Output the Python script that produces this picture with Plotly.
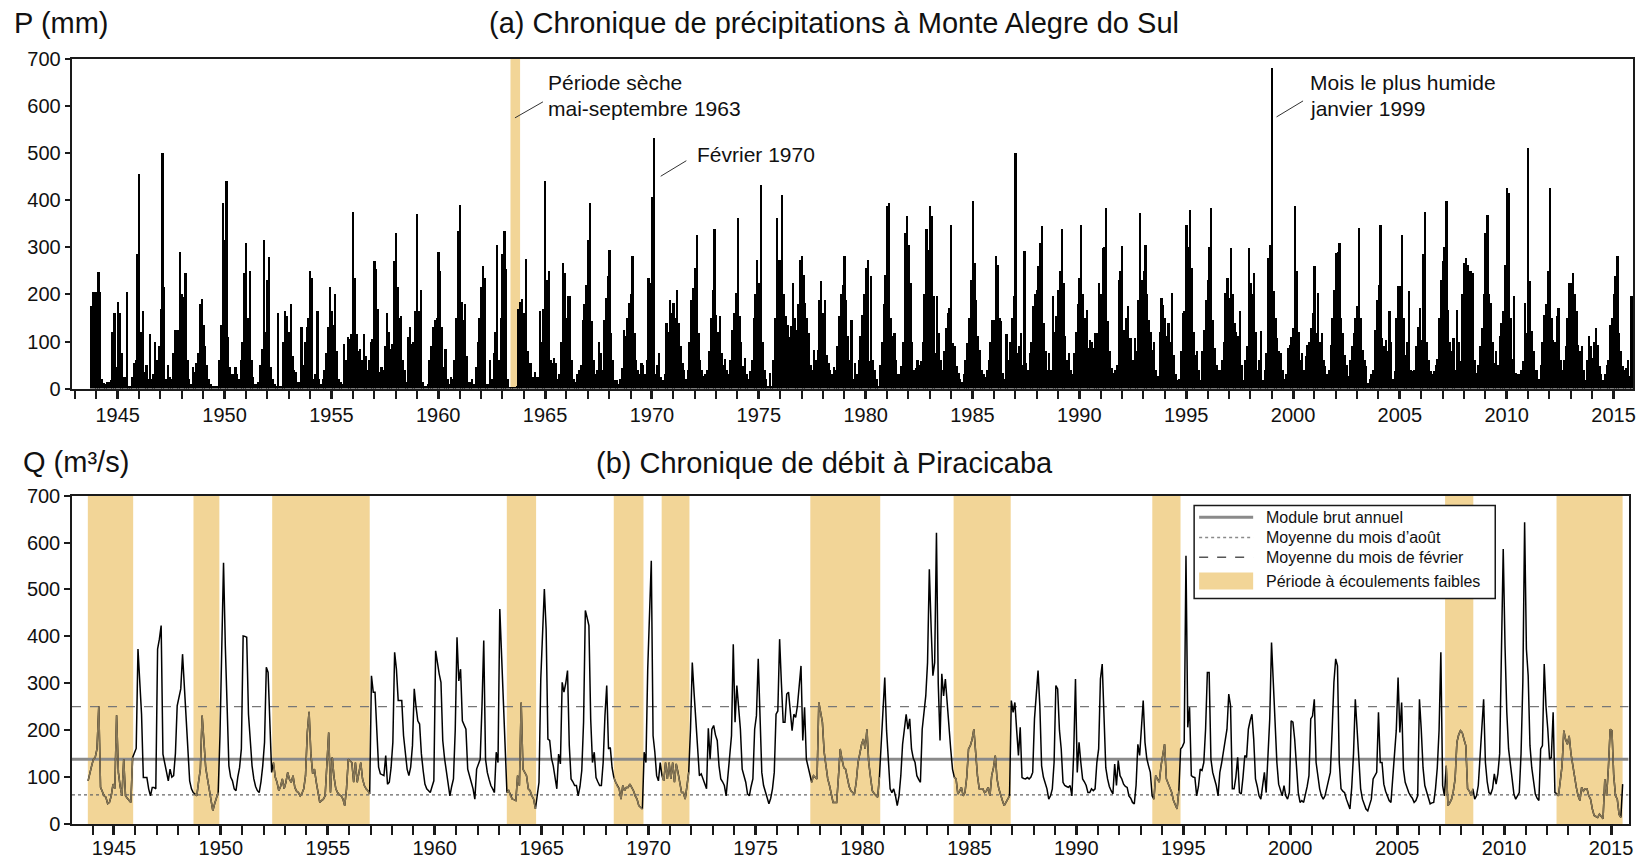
import plotly.graph_objects as go

# ---------------- DATA ----------------
# Monthly precipitation at Monte Alegre do Sul (mm), series starts October 1943
P_START_YEAR, P_START_MONTH = 1943, 10
P_1940s = [
    175, 205, 205,                                            # 1943 Oct-Dec
    205, 248, 205, 20, 12, 10, 15, 15, 18, 120, 160, 45,      # 1944
    185, 160, 75, 25, 25, 205, 5, 5, 25, 55, 60, 285,         # 1945
    455, 120, 165, 35, 50, 20, 115, 20, 30, 100, 60, 90,      # 1946
    170, 500, 215, 20, 50, 25, 20, 75, 125, 125, 125, 290,    # 1947
    200, 195, 245, 60, 20, 10, 45, 35, 55, 75, 180, 190,      # 1948
    135, 90, 50, 20, 10, 5, 5, 5, 5, 60, 135, 395,            # 1949
]
P_1950s = [
    315, 440, 110, 45, 30, 30, 45, 30, 20, 60, 100, 245,
    310, 150, 250, 60, 25, 10, 10, 15, 50, 85, 315, 120,
    230, 280, 45, 20, 10, 5, 160, 5, 5, 100, 165, 155,
    120, 180, 70, 40, 35, 15, 15, 130, 50, 100, 130, 150,
    250, 235, 20, 30, 165, 20, 10, 20, 40, 75, 130, 215,
    165, 135, 200, 80, 20, 15, 10, 95, 60, 110, 105, 115,
    375, 235, 115, 80, 85, 60, 115, 70, 40, 60, 100, 105,
    270, 255, 170, 35, 45, 40, 90, 160, 120, 85, 95, 270,
    330, 215, 150, 155, 60, 40, 15, 110, 130, 95, 100, 165,
    370, 165, 210, 15, 5, 5, 10, 60, 90, 130, 145, 150,
]
P_1960s = [
    290, 250, 130, 45, 85, 20, 10, 25, 20, 60, 150, 335,
    390, 185, 145, 180, 70, 15, 15, 20, 10, 45, 100, 150,
    215, 260, 235, 10, 10, 60, 20, 75, 120, 305, 60, 150,
    285, 335, 255, 20, 3, 2, 3, 2, 5, 170, 185, 190,
    160, 275, 80, 55, 55, 25, 35, 25, 25, 165, 100, 170,
    440, 230, 250, 60, 55, 65, 55, 20, 30, 100, 267, 246,
    150, 196, 196, 60, 20, 15, 30, 40, 51, 146, 180, 220,
    316, 394, 143, 60, 30, 40, 100, 76, 40, 146, 192, 240,
    295, 118, 60, 19, 19, 10, 20, 44, 125, 111, 150, 182,
    200, 281, 118, 60, 40, 30, 55, 51, 30, 60, 235, 224,
]
P_1970s = [
    408, 532, 30, 50, 76, 25, 19, 30, 139, 120, 189, 160,
    182, 150, 210, 139, 90, 55, 40, 20, 40, 100, 189, 214,
    256, 327, 118, 60, 40, 26, 30, 40, 80, 150, 210, 338,
    157, 120, 154, 76, 50, 62, 40, 30, 60, 125, 160, 203,
    362, 154, 100, 47, 65, 30, 20, 37, 60, 150, 200, 274,
    224, 433, 100, 40, 20, 5, 33, 5, 60, 150, 362, 274,
    274, 412, 200, 154, 136, 110, 132, 224, 150, 125, 180, 274,
    281, 242, 182, 150, 118, 50, 40, 83, 60, 83, 189, 228,
    160, 189, 72, 55, 40, 30, 45, 40, 90, 154, 200, 220,
    281, 189, 111, 60, 146, 20, 55, 30, 60, 111, 157, 200,
]
P_1980s = [
    256, 274, 58, 239, 60, 40, 20, 5, 50, 100, 180, 242,
    387, 394, 150, 111, 118, 60, 30, 30, 47, 100, 330, 366,
    306, 224, 100, 40, 44, 60, 50, 58, 100, 200, 338, 295,
    387, 366, 196, 76, 196, 118, 60, 40, 80, 129, 160, 171,
    348, 97, 90, 47, 33, 20, 15, 30, 60, 97, 150, 231,
    398, 267, 189, 111, 83, 40, 30, 25, 40, 60, 100, 146,
    146, 281, 263, 150, 143, 33, 20, 115, 60, 100, 150, 196,
    500, 76, 90, 118, 50, 292, 55, 40, 76, 100, 175, 200,
    210, 260, 309, 345, 139, 80, 40, 76, 40, 196, 120, 154,
    210, 250, 338, 224, 111, 60, 76, 40, 30, 76, 120, 180,
]
P_1990s = [
    235, 348, 200, 150, 168, 86, 104, 100, 86, 118, 118, 224,
    200, 299, 300, 384, 143, 80, 44, 33, 40, 51, 231, 250,
    302, 125, 150, 175, 108, 108, 60, 108, 80, 189, 373, 231,
    250, 306, 200, 146, 120, 83, 100, 40, 26, 120, 192, 178,
    150, 111, 139, 100, 203, 72, 30, 19, 20, 80, 161, 164,
    348, 300, 380, 256, 120, 72, 79, 40, 19, 80, 125, 189,
    231, 300, 384, 146, 86, 50, 40, 40, 60, 100, 203, 235,
    192, 299, 200, 139, 120, 111, 164, 50, 19, 60, 90, 299,
    224, 200, 246, 120, 40, 60, 122, 19, 40, 76, 277, 306,
    681, 207, 150, 108, 80, 76, 40, 20, 30, 86, 93, 110,
]
P_2000s = [
    129, 387, 249, 120, 60, 76, 40, 69, 93, 100, 129, 160,
    260, 118, 203, 100, 118, 60, 47, 30, 40, 93, 150, 210,
    288, 290, 309, 150, 118, 72, 50, 26, 60, 90, 118, 150,
    175, 341, 150, 83, 60, 47, 12, 20, 30, 40, 125, 189,
    220, 348, 108, 90, 104, 80, 164, 100, 20, 37, 150, 217,
    217, 327, 150, 72, 100, 207, 40, 37, 40, 90, 130, 171,
    104, 285, 376, 100, 60, 37, 30, 37, 50, 62, 150, 231,
    270, 300, 398, 168, 100, 80, 108, 40, 168, 100, 58, 200,
    267, 277, 263, 249, 250, 246, 60, 33, 50, 90, 129, 200,
    330, 369, 200, 182, 100, 55, 80, 51, 111, 140, 164, 263,
]
P_2010s = [
    426, 415, 150, 62, 196, 33, 30, 30, 40, 58, 182, 118,
    511, 228, 122, 80, 40, 40, 20, 51, 100, 157, 180, 249,
    426, 150, 104, 100, 154, 171, 60, 40, 60, 90, 150, 224,
    224, 246, 200, 164, 93, 80, 90, 40, 19, 60, 111, 90,
    65, 100, 129, 93, 47, 30, 19, 30, 51, 60, 136, 150,
    200, 240, 281, 118, 80, 47, 40, 44, 60, 26, 196,          # 2015 Jan-Nov
]

# Monthly discharge at Piracicaba (m3/s), series starts October 1943
Q_START_YEAR, Q_START_MONTH = 1943, 10
Q_1940s = [
    92, 110, 124,
    138, 142, 160, 251, 78, 67, 60, 57, 43, 46, 60, 85,
    75, 232, 110, 80, 60, 138, 60, 55, 50, 46, 142, 150,
    161, 373, 302, 234, 99, 99, 99, 75, 60, 78, 78, 75,
    373, 394, 423, 149, 130, 117, 92, 117, 100, 103, 150, 252,
    270, 288, 362, 300, 231, 160, 92, 75, 67, 64, 60, 90,
    117, 231, 181, 120, 96, 75, 50, 28, 43, 55, 67, 188,
]
Q_1950s = [
    350, 557, 380, 245, 124, 100, 92, 75, 71, 100, 120, 160,
    401, 400, 398, 234, 170, 124, 96, 80, 71, 67, 90, 124,
    174, 334, 323, 200, 110, 131, 100, 89, 71, 80, 96, 75,
    89, 110, 95, 89, 103, 78, 70, 67, 60, 65, 75, 103,
    195, 239, 150, 107, 117, 90, 71, 46, 50, 53, 60, 120,
    195, 67, 142, 100, 75, 67, 62, 60, 53, 39, 75, 138,
    135, 131, 89, 131, 89, 110, 131, 96, 82, 75, 71, 64,
    316, 281, 281, 200, 121, 107, 105, 103, 146, 85, 89, 120,
    174, 366, 330, 263, 263, 263, 188, 150, 117, 103, 121, 167,
    288, 250, 220, 213, 150, 114, 85, 75, 71, 67, 80, 92,
]
Q_1960s = [
    369, 340, 320, 302, 178, 140, 114, 89, 60, 80, 96, 200,
    398, 305, 330, 220, 210, 202, 117, 100, 89, 75, 53, 117,
    130, 138, 250, 391, 138, 110, 95, 82, 75, 67, 153, 131,
    458, 350, 266, 131, 67, 71, 60, 53, 52, 50, 103, 82,
    259, 117, 110, 103, 75, 71, 60, 53, 32, 60, 89, 309,
    400, 501, 415, 181, 178, 140, 124, 96, 75, 149, 128, 302,
    281, 300, 327, 167, 96, 90, 82, 82, 60, 80, 114, 217,
    455, 440, 423, 224, 131, 153, 99, 90, 82, 82, 131, 231,
    295, 160, 163, 120, 99, 89, 80, 75, 53, 82, 71, 78,
    78, 85, 78, 71, 60, 53, 39, 36, 32, 153, 131, 330,
]
Q_1970s = [
    444, 561, 188, 153, 103, 92, 131, 103, 92, 131, 96, 131,
    96, 131, 89, 128, 110, 90, 67, 67, 53, 80, 110, 202,
    344, 280, 217, 146, 103, 107, 95, 85, 75, 204, 138, 202,
    210, 190, 178, 124, 96, 90, 82, 60, 103, 150, 188, 383,
    217, 295, 250, 202, 117, 100, 89, 64, 60, 80, 96, 202,
    231, 352, 200, 110, 82, 70, 60, 43, 55, 75, 110, 234,
    241, 394, 300, 217, 217, 277, 281, 245, 199, 234, 227, 252,
    300, 337, 178, 249, 138, 120, 103, 89, 103, 100, 96, 259,
    240, 217, 153, 120, 96, 82, 60, 46, 46, 46, 100, 160,
    138, 120, 117, 96, 80, 71, 67, 64, 90, 131, 150, 170,
]
Q_1980s = [
    181, 160, 202, 131, 100, 71, 65, 60, 57, 100, 167, 250,
    312, 200, 146, 75, 67, 75, 60, 39, 60, 103, 170, 200,
    234, 202, 224, 160, 140, 131, 103, 95, 89, 202, 240, 273,
    344, 543, 420, 316, 344, 621, 300, 178, 320, 273, 309, 252,
    200, 160, 117, 100, 96, 64, 70, 78, 60, 67, 100, 160,
    167, 180, 202, 149, 103, 75, 75, 75, 67, 70, 78, 60,
    103, 120, 146, 96, 75, 60, 50, 39, 45, 53, 60, 263,
    238, 259, 200, 146, 206, 99, 97, 96, 99, 96, 100, 110,
    224, 280, 327, 252, 124, 100, 89, 75, 53, 60, 75, 131,
    295, 288, 200, 160, 89, 82, 80, 78, 82, 60, 150, 309,
]
Q_1990s = [
    110, 174, 131, 96, 90, 82, 67, 67, 75, 71, 75, 131,
    160, 309, 341, 202, 120, 96, 80, 71, 64, 128, 82, 135,
    103, 96, 85, 80, 78, 60, 55, 46, 43, 82, 170, 146,
    200, 263, 174, 140, 124, 110, 60, 53, 103, 95, 89, 124,
    150, 170, 96, 85, 75, 67, 50, 39, 32, 71, 160, 165,
    174, 572, 206, 249, 103, 100, 99, 60, 80, 117, 114, 131,
    202, 323, 323, 138, 110, 96, 82, 60, 110, 130, 153, 180,
    202, 277, 252, 75, 75, 100, 142, 67, 64, 100, 146, 142,
    202, 220, 234, 181, 96, 80, 60, 53, 80, 110, 67, 150,
    224, 387, 305, 200, 131, 85, 70, 60, 82, 60, 53, 67,
]
Q_2000s = [
    220, 217, 180, 131, 67, 46, 50, 46, 60, 80, 103, 224,
    230, 266, 131, 100, 75, 60, 53, 60, 75, 90, 110, 200,
    302, 352, 337, 131, 75, 70, 67, 53, 40, 32, 78, 150,
    266, 200, 131, 75, 53, 40, 32, 28, 40, 53, 96, 105,
    110, 238, 131, 131, 85, 70, 60, 50, 46, 96, 149, 200,
    312, 195, 259, 117, 89, 75, 67, 60, 55, 46, 50, 60,
    266, 202, 120, 82, 70, 60, 43, 45, 46, 75, 120, 200,
    366, 82, 60, 124, 39, 45, 53, 70, 96, 174, 190, 199,
    195, 180, 167, 75, 70, 60, 75, 53, 60, 82, 138, 200,
    266, 131, 90, 67, 64, 75, 107, 85, 107, 150, 380, 586,
]
Q_2010s = [
    380, 238, 160, 120, 96, 64, 53, 60, 67, 150, 302, 643,
    373, 316, 167, 120, 89, 64, 55, 50, 160, 167, 341, 250,
    202, 138, 142, 238, 67, 65, 60, 90, 124, 199, 180, 170,
    188, 150, 124, 96, 78, 60, 50, 78, 70, 75, 75, 60,
    53, 32, 18, 16, 14, 21, 15, 11, 96, 60, 120, 202,
    199, 103, 60, 53, 20, 14, 85,                              # 2015 Jan-Jul
]

# Reference discharges (m3/s)
Q_MODULE = 138      # Module brut annuel
Q_AUGUST = 62       # Moyenne du mois d'aout
Q_FEBRUARY = 250    # Moyenne du mois de fevrier

# Low-flow periods (decimal years)
LOW_START = [1943.78, 1948.72, 1952.40, 1963.37, 1968.37, 1970.61, 1977.56, 1984.26, 1993.55, 2007.24, 2012.45]
LOW_END = [1945.90, 1949.93, 1956.96, 1964.74, 1969.76, 1971.91, 1980.83, 1986.93, 1994.87, 2008.56, 2015.54]

# Dry period May-September 1963 (decimal years)
DRY_START, DRY_END = 1963.38, 1963.83

YEAR_TICKS = list(range(1945, 2016, 5))
VAL_TICKS = list(range(0, 701, 100))

# ---------------- BUILD ----------------
P = P_1940s + P_1950s + P_1960s + P_1970s + P_1980s + P_1990s + P_2000s + P_2010s
Q = Q_1940s + Q_1950s + Q_1960s + Q_1970s + Q_1980s + Q_1990s + Q_2000s + Q_2010s


def month_positions(y0, m0, n):
    base = y0 + (m0 - 1) / 12.0
    return [base + (i + 0.5) / 12.0 for i in range(n)]


xP = month_positions(P_START_YEAR, P_START_MONTH, len(P))
xQ = month_positions(Q_START_YEAR, Q_START_MONTH, len(Q))


def in_low(x):
    return any(a <= x <= b for a, b in zip(LOW_START, LOW_END))


Q_low = [q if in_low(x) else None for x, q in zip(xQ, Q)]

W, H = 1642, 861
FONT = "Liberation Sans, Arial, sans-serif"
GOLD = "#F2D597"
INK = "#1a1a1a"

# plot-area pixel boxes (page pixels)
TOP = dict(l=72.7, r=1632.7, t=59.3, b=389.0)
BOT = dict(l=72.3, r=1628.3, t=496.0, b=824.5)
TOP_XR = [1942.88, 2015.91]
BOT_XR = [1943.04, 2015.82]

# margins enclosing both plot areas
ML = min(TOP["l"], BOT["l"])
MR = W - max(TOP["r"], BOT["r"])
MT = TOP["t"]
MB = H - BOT["b"]
PW = W - ML - MR
PH = H - MT - MB


def fx(p):
    return (p - ML) / PW


def fy(p):
    return (H - MB - p) / PH


fig = go.Figure()

fig.add_trace(go.Bar(x=xP, y=P, width=1 / 12.0, marker=dict(color="black", line=dict(width=0)),
                     xaxis="x", yaxis="y", showlegend=False, hoverinfo="x+y"))

for val, col, wd, dash in [(Q_MODULE, "#8a8a8a", 3, "solid"),
                           (Q_AUGUST, "#666666", 1.3, "dot"),
                           (Q_FEBRUARY, "#777777", 1.2, "dash")]:
    fig.add_trace(go.Scatter(x=BOT_XR, y=[val, val], mode="lines",
                             line=dict(color=col, width=wd, dash=dash),
                             xaxis="x2", yaxis="y2", showlegend=False, hoverinfo="skip"))

fig.add_trace(go.Scatter(x=xQ, y=Q, mode="lines", line=dict(color="black", width=1.5),
                         xaxis="x2", yaxis="y2", showlegend=False))
fig.add_trace(go.Scatter(x=xQ, y=Q_low, mode="lines", line=dict(color="#857657", width=1.5),
                         connectgaps=False, xaxis="x2", yaxis="y2", showlegend=False))

shapes = []
shapes.append(dict(type="rect", xref="x", yref="y", x0=DRY_START, x1=DRY_END, y0=0, y1=700,
                   fillcolor=GOLD, line=dict(width=0), layer="below"))
for a, b in zip(LOW_START, LOW_END):
    shapes.append(dict(type="rect", xref="x2", yref="y2", x0=a, x1=b, y0=0, y1=700,
                       fillcolor=GOLD, line=dict(width=0), layer="below"))

# leader lines of the annotations (top panel, data coordinates)
for (x0, y0, x1, y1) in [(1963.59, 575, 1964.90, 609),
                         (1970.41, 451, 1971.61, 484),
                         (1999.23, 577, 2000.47, 611)]:
    shapes.append(dict(type="line", xref="x", yref="y", x0=x0, y0=y0, x1=x1, y1=y1,
                       line=dict(color="#333333", width=1)))

# legend (drawn manually)
LG = dict(x0=1194, x1=1495, y0=506, y1=599)
shapes.append(dict(type="rect", xref="paper", yref="paper", x0=fx(LG["x0"]), x1=fx(LG["x1"]),
                   y0=fy(LG["y1"]), y1=fy(LG["y0"]), fillcolor="white", line=dict(color=INK, width=1.5)))
legend_rows = [("Module brut annuel", 517.7, "line", "#8a8a8a", 3, "solid"),
               ("Moyenne du mois d’août", 538.0, "line", "#8a8a8a", 1.5, "dot"),
               ("Moyenne du mois de février", 557.7, "line", "#555555", 1.5, "dash"),
               ("Période à écoulements faibles", 581.5, "rect", GOLD, 0, None)]
annotations = []
for text, yy, kind, col, wd, dash in legend_rows:
    if kind == "line":
        shapes.append(dict(type="line", xref="paper", yref="paper", x0=fx(1199), x1=fx(1253),
                           y0=fy(yy), y1=fy(yy), line=dict(color=col, width=wd, dash=dash)))
    else:
        shapes.append(dict(type="rect", xref="paper", yref="paper", x0=fx(1199), x1=fx(1253),
                           y0=fy(yy + 8.5), y1=fy(yy - 8.5), fillcolor=col, line=dict(width=0)))
    annotations.append(dict(text=text, xref="paper", yref="paper", x=fx(1264), y=fy(yy),
                            xanchor="left", yanchor="middle", showarrow=False,
                            font=dict(family=FONT, size=16, color="#111")))

# titles
for text, x, y, anchor in [("P (mm)", 12.5, 23, "left"),
                           ("(a) Chronique de précipitations à Monte Alegre do Sul", 834, 23, "center"),
                           ("Q (m³/s)", 21.5, 462, "left"),
                           ("(b) Chronique de débit à Piracicaba", 825, 463, "center")]:
    annotations.append(dict(text=text, xref="paper", yref="paper", x=fx(x), y=fy(y),
                            xanchor=anchor, yanchor="middle", showarrow=False,
                            font=dict(family=FONT, size=29, color="#111")))

# annotation texts (top panel data coordinates)
for text, x, y in [("Période sèche", 1965.04, 650), ("mai-septembre 1963", 1965.04, 594),
                   ("Février 1970", 1972.01, 497),
                   ("Mois le plus humide", 2000.68, 650), ("janvier 1999", 2000.68, 594)]:
    annotations.append(dict(text=text, xref="x", yref="y", x=x, y=y, xanchor="left", yanchor="middle",
                            showarrow=False, font=dict(family=FONT, size=21, color="#111")))

common = dict(showline=True, linecolor=INK, linewidth=1.5, mirror=True, ticks="outside",
              tickcolor=INK, showgrid=False, zeroline=False, automargin=False,
              tickfont=dict(family=FONT, size=20, color="#111"))
xcommon = dict(common, tickmode="array", tickvals=YEAR_TICKS, ticklen=9, tickwidth=3,
               minor=dict(tickmode="linear", tick0=1945, dtick=1, ticks="outside", ticklen=9,
                          tickwidth=1.5, tickcolor=INK))
ycommon = dict(common, tickmode="array", tickvals=VAL_TICKS, ticklen=6, tickwidth=1.5)

fig.update_layout(
    width=W, height=H, margin=dict(l=ML, r=MR, t=MT, b=MB, pad=0, autoexpand=False), autosize=False,
    paper_bgcolor="white", plot_bgcolor="white", bargap=0,
    font=dict(family=FONT, color="#111"),
    xaxis=dict(xcommon, domain=[fx(TOP["l"]), fx(TOP["r"])], range=TOP_XR, anchor="y",
               ticklabelstandoff=-1),
    yaxis=dict(ycommon, domain=[fy(TOP["b"]), fy(TOP["t"])], range=[0, 700], anchor="x"),
    xaxis2=dict(xcommon, domain=[fx(BOT["l"]), fx(BOT["r"])], range=BOT_XR, anchor="y2",
                ticklabelstandoff=-4),
    yaxis2=dict(ycommon, domain=[fy(BOT["b"]), fy(BOT["t"])], range=[0, 700], anchor="x2"),
    shapes=shapes, annotations=annotations, showlegend=False,
)

fig.write_html("out.html", config={"displayModeBar": False},
               post_script="document.body.style.margin='0px';document.body.style.overflow='hidden';")
